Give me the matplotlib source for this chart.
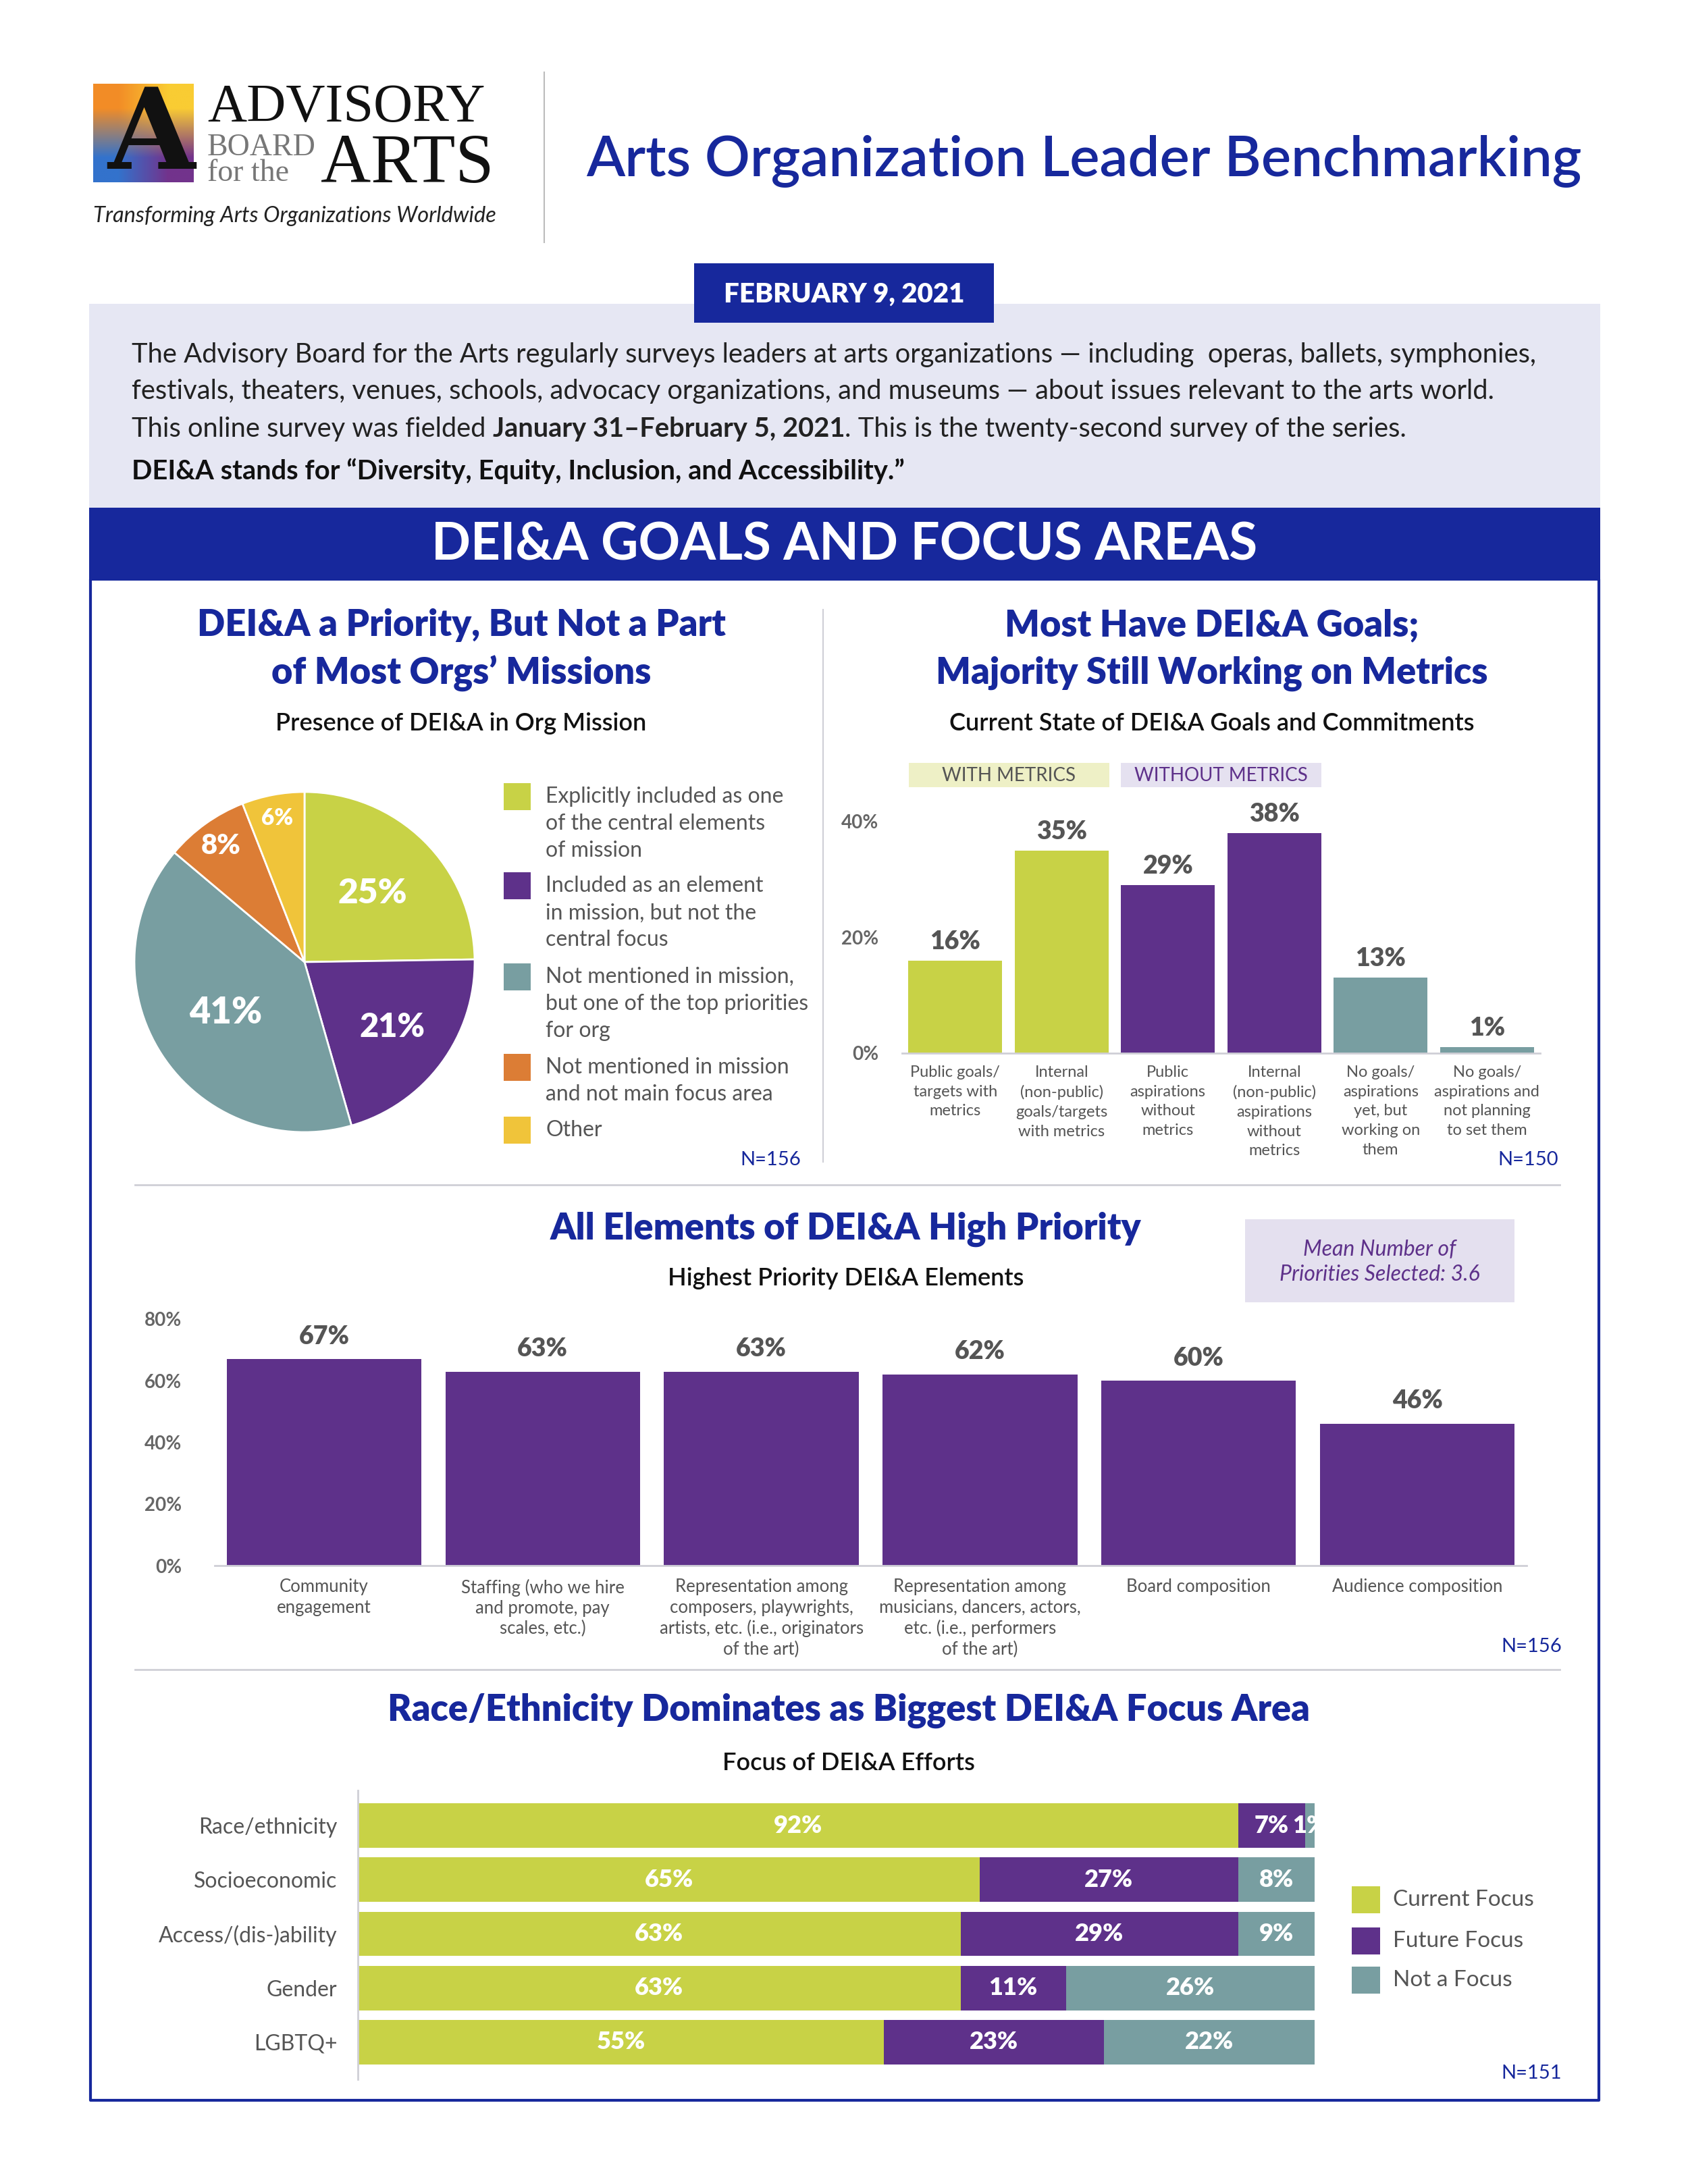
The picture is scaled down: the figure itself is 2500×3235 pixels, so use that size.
import matplotlib
matplotlib.use("Agg")
import matplotlib.pyplot as plt
from matplotlib.patches import Rectangle
from matplotlib.lines import Line2D
import numpy as np

plt.rcParams['font.family'] = ['Lato', 'DejaVu Sans']

W, H = 2500, 3235
BLUE = '#17289C'
LIME = '#C8D246'
PURPLE = '#5E318A'
TEAL = '#789EA1'
ORANGE = '#DC7D35'
GOLD = '#F0C43A'
GRAY = '#555555'
LINE = '#CFCFD6'

# ---- data ----
mission_labels = ["Explicitly included as one\nof the central elements\nof mission",
                  "Included as an element\nin mission, but not the\ncentral focus",
                  "Not mentioned in mission,\nbut one of the top priorities\nfor org",
                  "Not mentioned in mission\nand not main focus area",
                  "Other"]
mission_values = [25, 21, 41, 8, 6]
mission_colors = [LIME, PURPLE, TEAL, ORANGE, GOLD]

goal_labels = ["Public goals/\ntargets with\nmetrics",
               "Internal\n(non-public)\ngoals/targets\nwith metrics",
               "Public\naspirations\nwithout\nmetrics",
               "Internal\n(non-public)\naspirations\nwithout\nmetrics",
               "No goals/\naspirations\nyet, but\nworking on\nthem",
               "No goals/\naspirations and\nnot planning\nto set them"]
goal_values = [16, 35, 29, 38, 13, 1]
goal_colors = [LIME, LIME, PURPLE, PURPLE, TEAL, TEAL]
goal_ticks = [0, 20, 40]

element_labels = ["Community\nengagement",
                  "Staffing (who we hire\nand promote, pay\nscales, etc.)",
                  "Representation among\ncomposers, playwrights,\nartists, etc. (i.e., originators\nof the art)",
                  "Representation among\nmusicians, dancers, actors,\netc. (i.e., performers\nof the art)",
                  "Board composition",
                  "Audience composition"]
element_values = [67, 63, 63, 62, 60, 46]
element_ticks = [0, 20, 40, 60, 80]

focus_areas = ["Race/ethnicity", "Socioeconomic", "Access/(dis-)ability", "Gender", "LGBTQ+"]
focus_series = ["Current Focus", "Future Focus", "Not a Focus"]
current_focus = [92, 65, 63, 63, 55]
future_focus = [7, 27, 29, 11, 23]
not_focus = [1, 8, 9, 26, 22]
focus_colors = [LIME, PURPLE, TEAL]

fig = plt.figure(figsize=(W / 100, H / 100), dpi=100)
renderer = fig.canvas.get_renderer()


def fx(x):
    return x / W


def fy(y):
    return 1 - y / H


def txt(x, y, s, **kw):
    return fig.text(fx(x), fy(y), s, **kw)


def box(x0, y0, x1, y1, color):
    fig.patches.append(Rectangle((fx(x0), fy(y1)), (x1 - x0) / W, (y1 - y0) / H,
                                 transform=fig.transFigure, facecolor=color, edgecolor='none'))


def line(xs, ys, color, lw):
    fig.add_artist(Line2D([fx(v) for v in xs], [fy(v) for v in ys], color=color, lw=lw))


def add_ax(x0, y0, x1, y1):
    return fig.add_axes([fx(x0), fy(y1), (x1 - x0) / W, (y1 - y0) / H])


# ---- header / logo ----
lax = add_ax(138, 124, 287, 270)
grad = np.array([[[0.95, 0.55, 0.15], [0.98, 0.80, 0.20]],
                 [[0.20, 0.45, 0.80], [0.45, 0.20, 0.55]]])
lax.imshow(grad, interpolation='bilinear', aspect='auto', extent=(0, 1, 0, 1))
lax.text(0.58, 0.45, "A", fontsize=120, family='DejaVu Serif', fontweight='bold',
         ha='center', va='center', color='#111')
lax.axis('off')

txt(307, 180, "ADVISORY", fontsize=58, family='Liberation Serif', color='#111', va='baseline')
txt(307, 230, "BOARD", fontsize=33, family='Liberation Serif', color='#777', va='baseline')
txt(307, 268, "for the", fontsize=33, family='Liberation Serif', color='#777', va='baseline')
txt(731, 270, "ARTS", fontsize=74, family='Liberation Serif', color='#111', va='baseline', ha='right')
txt(138, 320, "Transforming Arts Organizations Worldwide", fontsize=23.5, style='italic',
    color='#222', va='center')
line([806, 806], [107, 359], '#BBBBBB', 1.5)

txt(1605, 238, "Arts Organization Leader Benchmarking", fontsize=60, color=BLUE,
    fontweight='semibold', ha='center', va='center')

# intro panel
box(132, 450, 2370, 752, '#E6E7F3')
box(1028, 390, 1472, 478, BLUE)
txt(1250, 436, "FEBRUARY 9, 2021", fontsize=29, fontweight='heavy', color='white',
    ha='center', va='center')


def runs(x, y, parts, size):
    for s, weight in parts:
        t = txt(x, y, s, fontsize=size, fontweight=weight, color='#222', va='center')
        x += t.get_window_extent(renderer).width


intro_size = 28.7
sp = txt(0, 0, "a a", fontsize=intro_size)
sp2 = txt(0, 0, "aa", fontsize=intro_size)
gap = sp.get_window_extent(renderer).width - sp2.get_window_extent(renderer).width
sp.remove()
sp2.remove()

txt(195, 526, "The Advisory Board for the Arts regularly surveys leaders at arts organizations \u2014 including  operas, ballets, symphonies,",
    fontsize=intro_size, color='#222', va='center')
txt(195, 580, "festivals, theaters, venues, schools, advocacy organizations, and museums \u2014 about issues relevant to the arts world.",
    fontsize=intro_size, color='#222', va='center')
t1 = txt(195, 636, "This online survey was fielded", fontsize=intro_size, color='#222', va='center')
x3 = 195 + t1.get_window_extent(renderer).width + gap
runs(x3, 636, [("January 31\u2013February 5, 2021", 'bold'),
               (". This is the twenty-second survey of the series.", 'normal')], intro_size)
txt(195, 698, "DEI&A stands for \u201cDiversity, Equity, Inclusion, and Accessibility.\u201d",
    fontsize=intro_size, fontweight='bold', color='#111', va='center')

# banner + frame
box(132, 752, 2370, 860, BLUE)
txt(1251, 808, "DEI&A GOALS AND FOCUS AREAS", fontsize=55, fontweight='bold', color='white',
    ha='center', va='center')
line([134, 134, 2368, 2368], [860, 3111, 3111, 860], BLUE, 3)
line([1219, 1219], [903, 1721], LINE, 1.5)
line([200, 2310], [1755, 1755], LINE, 2)
line([200, 2310], [2473, 2473], LINE, 2)

# ---- section titles ----
title_kw = dict(fontsize=39, fontweight='heavy', color=BLUE, ha='center', va='center')
sub_kw = dict(fontsize=26, fontweight='semibold', color='#111', ha='center', va='center')
txt(683, 926, "DEI&A a Priority, But Not a Part", **title_kw)
txt(683, 998, "of Most Orgs\u2019 Missions", **title_kw)
txt(683, 1072, "Presence of DEI&A in Org Mission", **sub_kw)
txt(1795, 926, "Most Have DEI&A Goals;", **title_kw)
txt(1795, 998, "Majority Still Working on Metrics", **title_kw)
txt(1795, 1072, "Current State of DEI&A Goals and Commitments", **sub_kw)
txt(1253, 1821, "All Elements of DEI&A High Priority", **title_kw)
txt(1253, 1894, "Highest Priority DEI&A Elements", **sub_kw)
txt(1257, 2534, "Race/Ethnicity Dominates as Biggest DEI&A Focus Area", **title_kw)
txt(1257, 2612, "Focus of DEI&A Efforts", **sub_kw)

n_kw = dict(fontsize=21, color=BLUE, ha='right', va='center')
txt(1186, 1718, "N=156", **n_kw)
txt(2308, 1718, "N=150", **n_kw)
txt(2313, 2439, "N=156", **n_kw)
txt(2313, 3071, "N=151", **n_kw)

# ---- pie ----
pax = add_ax(199, 1173, 703, 1677)
wedges, _ = pax.pie(mission_values, colors=mission_colors, startangle=90, counterclock=False,
                    wedgeprops=dict(edgecolor='white', linewidth=2))
pax.set_xlim(-1, 1)
pax.set_ylim(-1, 1)
label_r = [0.57, 0.64, 0.55, 0.84, 0.86]
label_fs = [37, 35, 39, 30, 24]
for w, v, r, fs in zip(wedges, mission_values, label_r, label_fs):
    ang = np.deg2rad((w.theta1 + w.theta2) / 2)
    pax.text(r * np.cos(ang), r * np.sin(ang), f"{v}%", fontsize=fs, fontweight='heavy',
             color='white', ha='center', va='center')

sq_tops = [1160, 1292, 1427, 1561, 1654]
for top, lab, col in zip(sq_tops, mission_labels, mission_colors):
    box(746, top, 786, top + 40, col)
    txt(808, top + 5, lab, fontsize=23, color=GRAY, va='top', linespacing=1.42)

# ---- goals bar chart ----
gax = add_ax(1336, 1174, 2281, 1560)
gx = np.arange(len(goal_values))
gb = gax.bar(gx, goal_values, width=0.88, color=goal_colors)
gax.bar_label(gb, labels=[f"{v}%" for v in goal_values], padding=8, fontsize=27,
              fontweight='heavy', color=GRAY)
gax.set_xlim(-0.5, len(goal_values) - 0.5)
gax.set_ylim(0, 45)
gax.set_yticks(goal_ticks)
gax.set_yticklabels([f"{v}%" for v in goal_ticks], fontweight='bold', color='#666', fontsize=20)
gax.set_xticks(gx)
gax.set_xticklabels(goal_labels, fontsize=17, color=GRAY, linespacing=1.45)
gax.tick_params(length=0, axis='x', pad=13)
gax.tick_params(length=0, axis='y', pad=25)
for s in ['top', 'right', 'left']:
    gax.spines[s].set_visible(False)
gax.spines['bottom'].set_color(LINE)
gax.spines['bottom'].set_linewidth(2)

box(1346, 1130, 1643, 1166, '#EEF0C6')
box(1660, 1130, 1957, 1166, '#E5E1F0')
txt(1494, 1149, "WITH METRICS", fontsize=20, color=GRAY, ha='center', va='center')
txt(1808, 1149, "WITHOUT METRICS", fontsize=20, color=PURPLE, ha='center', va='center')

# ---- elements bar chart ----
eax = add_ax(318, 1954, 2261, 2319)
ex = np.arange(len(element_values))
eb = eax.bar(ex, element_values, width=0.89, color=PURPLE)
eax.bar_label(eb, labels=[f"{v}%" for v in element_values], padding=12, fontsize=27,
              fontweight='heavy', color=GRAY)
eax.set_xlim(-0.5, len(element_values) - 0.5)
eax.set_ylim(0, 80)
eax.set_yticks(element_ticks)
eax.set_yticklabels([f"{v}%" for v in element_ticks], fontweight='bold', color='#666', fontsize=20)
eax.set_xticks(ex)
eax.set_xticklabels(element_labels, fontsize=18.5, color=GRAY, linespacing=1.26)
eax.tick_params(length=0, axis='x', pad=14)
eax.tick_params(length=0, axis='y', pad=35)
for s in ['top', 'right', 'left']:
    eax.spines[s].set_visible(False)
eax.spines['bottom'].set_color(LINE)
eax.spines['bottom'].set_linewidth(2)

box(1844, 1806, 2243, 1929, '#E4E0EF')
txt(2043, 1851, "Mean Number of", fontsize=23, style='italic', color=PURPLE, ha='center', va='center')
txt(2043, 1888, "Priorities Selected: 3.6", fontsize=23, style='italic', color=PURPLE,
    ha='center', va='center')

# ---- focus stacked bars ----
fax = add_ax(530, 2664, 1947, 3065)
fy_pos = np.arange(len(focus_areas))
left = np.zeros(len(focus_areas))
for vals, name, col in zip([current_focus, future_focus, not_focus], focus_series, focus_colors):
    bars = fax.barh(fy_pos, vals, left=left, height=0.82, color=col, label=name)
    labs = fax.bar_label(bars, labels=[f"{v}%" for v in vals], label_type='center',
                         fontsize=26, fontweight='heavy', color='white')
    for t in labs:
        t.set_clip_on(True)
    left = left + np.array(vals)
fax.set_xlim(0, 100)
fax.set_ylim(len(focus_areas) - 0.5, -0.5)
fax.set_yticks(fy_pos)
fax.set_yticklabels(focus_areas, fontsize=23, color=GRAY)
fax.tick_params(length=0, pad=22)
fax.set_xticks([])
for s in fax.spines.values():
    s.set_visible(False)
line([530, 530], [2652, 3080], LINE, 2)

leg_tops = [2794, 2855, 2913]
for top, name, col in zip(leg_tops, focus_series, focus_colors):
    box(2002, top, 2044, top + 40, col)
    txt(2063, top + 20, name, fontsize=24, color=GRAY, va='center')

fig.savefig("out.png", dpi=100)
